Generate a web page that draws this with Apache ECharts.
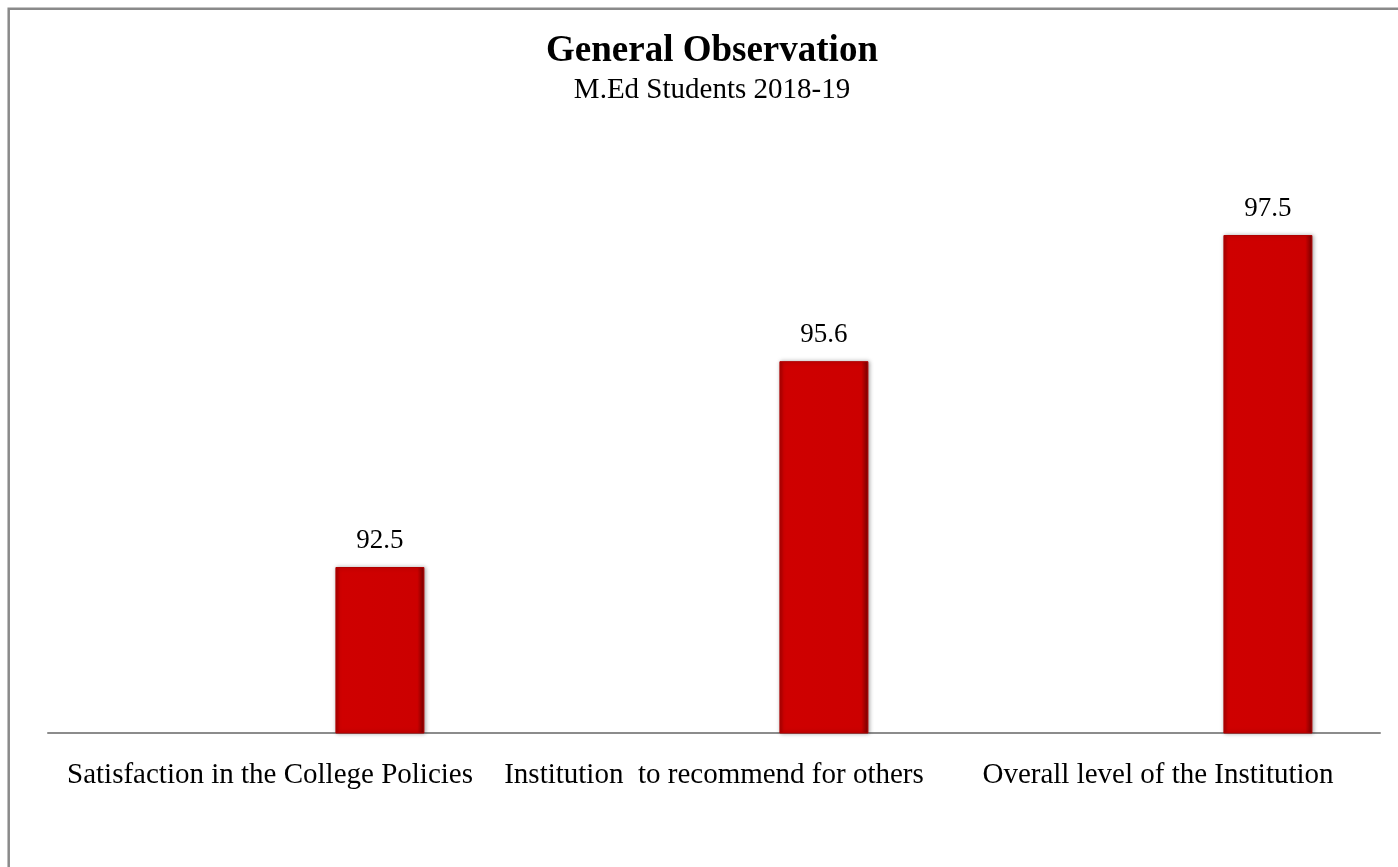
<!DOCTYPE html>
<html>
<head>
<meta charset="utf-8">
<title>General Observation</title>
<script src="https://cdn.jsdelivr.net/npm/echarts@6/dist/echarts.min.js"></script>
<style>
  html, body { margin: 0; padding: 0; background: #ffffff; }
  #chart { width: 1398px; height: 867px; }
</style>
</head>
<body>
<div id="chart"></div>
<script>
// ---- data ----
var titleText = 'General Observation';
var subtitleText = 'M.Ed Students 2018-19';
var categories = [
  'Satisfaction in the College Policies',
  'Institution  to recommend for others',
  'Overall level of the Institution'
];
var values = [92.5, 95.6, 97.5];
var blankSeries = [null, null, null]; // empty first series of the cluster
var axisMin = 90;
var axisMax = 100;

var chart = echarts.init(document.getElementById('chart'), null, { renderer: 'canvas' });

var barGradient = new echarts.graphic.LinearGradient(0, 0, 1, 0, [
  { offset: 0, color: '#a80000' },
  { offset: 0.05, color: '#cf0000' },
  { offset: 0.92, color: '#cc0000' },
  { offset: 1, color: '#780000' }
]);

var option = {
  animation: false,
  backgroundColor: '#ffffff',
  title: [{
    text: titleText,
    left: 707,
    textAlign: 'center',
    top: 28,
    textStyle: {
      fontFamily: 'Liberation Serif',
      fontWeight: 'bold',
      fontSize: 37,
      color: '#000000'
    }
  }, {
    text: subtitleText,
    left: 707,
    textAlign: 'center',
    top: 71,
    textStyle: {
      fontFamily: 'Liberation Serif',
      fontWeight: 'normal',
      fontSize: 29,
      color: '#000000'
    }
  }],
  graphic: [{
    type: 'rect',
    silent: true,
    shape: { x: 8.7, y: 8.7, width: 1600, height: 1200 },
    style: { fill: 'none', stroke: '#8a8a8a', lineWidth: 2.5 }
  }],
  grid: {
    left: 48,
    right: 18,
    top: 69,
    bottom: 134
  },
  xAxis: {
    type: 'category',
    data: categories,
    axisLine: { show: true, lineStyle: { color: '#8c8c8c', width: 2 } },
    axisTick: { show: false },
    axisLabel: {
      interval: 0,
      margin: 28,
      fontFamily: 'Liberation Serif',
      fontSize: 29,
      color: '#000000'
    }
  },
  yAxis: {
    type: 'value',
    min: axisMin,
    max: axisMax,
    show: false,
    splitLine: { show: false }
  },
  series: [{
    name: 'blank',
    type: 'bar',
    data: blankSeries,
    barWidth: 89,
    barGap: '147%'
  }, {
    name: 'General Observation',
    type: 'bar',
    data: values,
    barWidth: 89,
    barGap: '147%',
    itemStyle: {
      color: barGradient,
      borderColor: '#b00000',
      borderWidth: 1,
      shadowColor: 'rgba(0,0,0,0.35)',
      shadowBlur: 4,
      shadowOffsetX: 1,
      shadowOffsetY: 0
    },
    label: {
      show: true,
      position: 'top',
      distance: 13,
      fontFamily: 'Liberation Serif',
      fontSize: 27,
      color: '#000000'
    }
  }]
};

chart.setOption(option);
</script>
</body>
</html>
